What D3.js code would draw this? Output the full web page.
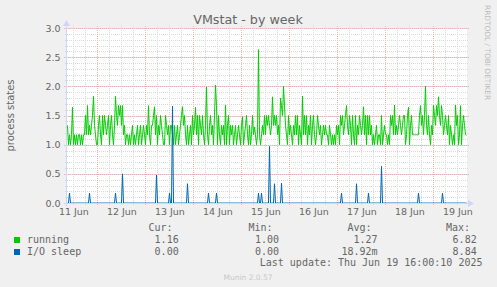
<!DOCTYPE html>
<html>
<head>
<meta charset="utf-8">
<script src="https://cdn.jsdelivr.net/npm/d3@7"></script>
<style>
  body { margin: 0; background: #F0F0F0; }
  svg { display: block; }
</style>
</head>
<body>
<div id="chart"></div>
<script>
// Series values, one value per 30 minute step
var running = [
  1.33,1.00,1.17,1.00,1.17,1.64,1.00,1.17,1.00,1.17,1.00,1.17,1.17,1.00,1.17,1.00,1.17,1.17,1.50,1.17,
  1.67,1.17,1.33,1.17,1.33,1.50,1.83,1.33,1.17,1.00,1.00,1.33,1.50,1.17,1.00,1.50,1.17,1.50,1.33,1.17,
  1.33,1.50,1.00,1.33,1.50,1.17,1.00,1.33,1.83,1.50,1.33,1.67,1.50,1.67,1.33,1.67,1.17,1.33,1.00,1.17,
  1.17,1.00,1.17,1.00,1.17,1.33,1.00,1.17,1.00,1.17,1.33,1.00,1.17,1.33,1.00,1.17,1.33,1.17,1.00,1.33,
  1.17,1.67,1.17,1.00,1.33,1.33,1.50,1.65,1.17,1.50,1.00,1.33,1.17,1.50,1.33,1.17,1.00,1.00,1.50,1.33,
  1.17,1.33,1.00,1.33,1.33,1.17,1.00,1.33,1.00,1.17,1.33,1.00,1.17,1.33,1.50,1.65,1.33,1.50,1.17,1.00,
  1.33,1.00,1.17,1.33,1.00,1.50,1.17,1.33,1.64,1.17,1.50,1.00,1.50,1.33,1.17,1.50,1.17,1.00,1.33,1.99,
  1.17,1.00,1.33,1.50,1.17,1.33,1.00,1.50,2.02,1.67,1.00,1.50,1.17,1.00,1.33,1.17,1.33,1.00,1.68,1.00,
  1.33,1.50,1.00,1.33,1.17,1.33,1.00,1.17,1.33,1.00,1.17,1.33,1.17,1.00,1.33,1.48,1.00,1.17,1.33,1.50,
  1.17,1.00,1.33,1.00,1.17,1.50,1.17,1.30,1.17,1.00,1.17,2.63,1.17,1.00,1.17,1.33,1.17,1.50,1.17,1.50,
  1.33,1.50,1.33,1.17,1.33,1.82,1.33,1.50,1.33,1.50,1.17,1.33,1.00,1.80,1.67,1.50,2.00,1.67,1.33,1.17,
  1.00,1.50,1.17,1.33,1.17,1.00,1.33,1.17,1.50,1.17,1.50,1.00,1.33,1.17,1.00,1.83,1.17,1.50,1.17,1.50,
  1.00,1.33,1.17,1.50,1.00,1.33,1.50,1.17,1.00,1.17,1.50,1.33,1.17,1.33,1.00,1.17,1.33,1.17,1.33,1.17,
  1.17,1.00,1.33,1.17,1.00,1.17,1.00,1.17,1.00,1.33,1.17,1.33,1.00,1.50,1.33,1.50,1.17,1.33,1.50,1.67,
  1.33,1.17,1.50,1.33,1.00,1.50,1.17,1.00,1.50,1.00,1.33,1.17,1.50,1.33,1.17,1.33,1.65,1.17,1.50,1.00,
  1.50,1.17,1.50,1.17,1.33,1.00,1.17,1.00,1.17,1.33,1.00,1.17,1.17,1.00,1.50,1.00,1.17,1.33,1.17,1.17,
  1.00,1.17,1.00,1.50,1.33,1.50,1.17,1.68,1.17,1.33,1.17,1.33,1.50,1.33,1.17,1.33,1.50,1.50,1.00,1.17,
  1.50,1.64,1.00,1.33,1.50,1.17,1.17,1.17,1.17,1.17,1.17,1.17,1.50,1.67,1.33,1.50,1.17,1.50,2.00,1.33,
  1.17,1.50,1.17,1.00,1.33,1.17,1.68,1.50,1.33,1.67,1.50,1.82,1.50,1.33,1.67,1.50,1.17,1.33,1.50,1.33,
  1.17,1.50,1.00,1.33,1.17,1.00,1.17,1.00,1.68,1.33,1.50,1.00,1.17,1.67,1.00,1.33,1.50,1.33,1.17,1.16
];

var ioSleep = [
  0,0,0.17,0,0,0,0,0,0,0,0,0,0,0,0,0,0,0,0,0,
  0,0,0.17,0,0,0,0,0,0,0,0,0,0,0,0,0,0,0,0,0,
  0,0,0,0,0,0,0,0,0.17,0,0,0,0,0,0,0.50,0,0,0,0,
  0,0,0,0,0,0,0,0,0,0,0,0,0,0,0,0,0,0,0,0,
  0,0,0,0,0,0,0,0,0,0.48,0,0,0,0,0,0,0,0,0,0,
  0,0,0.17,0,0,1.66,0,0,0,0,0,0,0,0,0,0,0,0,0,0,
  0.33,0,0,0,0,0,0,0,0,0,0,0,0,0,0,0,0,0,0,0,
  0,0.17,0,0,0,0,0,0,0,0.17,0,0,0,0,0,0,0,0,0,0,
  0,0,0,0,0,0,0,0,0,0,0,0,0,0,0,0,0,0,0,0,
  0,0,0,0,0,0,0,0,0,0,0,0.17,0,0,0.17,0,0,0,0,0,
  0,0,0.97,0,0,0,0,0.33,0,0,0,0,0,0,0.34,0,0,0,0,0,
  0,0,0,0,0,0,0,0,0,0,0,0,0,0,0,0,0,0,0,0,
  0,0,0,0,0,0,0,0,0,0,0,0,0,0,0,0,0,0,0,0,
  0,0,0,0,0,0,0,0,0,0,0,0,0,0,0.17,0,0,0,0,0,
  0,0,0,0,0,0,0,0,0,0.33,0,0,0,0,0,0,0,0,0,0,
  0,0.17,0,0,0,0,0,0,0,0,0,0,0,0,0.63,0,0,0,0,0,
  0,0,0,0,0,0,0,0,0,0,0,0,0,0,0,0,0,0,0,0,
  0,0,0,0,0,0,0,0,0,0,0,0.17,0,0,0,0,0,0,0,0,
  0,0,0,0,0,0,0,0,0,0,0,0,0,0,0,0.17,0,0,0,0,
  0,0,0,0,0,0,0,0,0,0,0,0,0,0,0,0,0,0,0,0
];

// Tick labels and legend text
var yTicks = [0, 0.5, 1.0, 1.5, 2.0, 2.5, 3.0];
var dayLabels = ["11 Jun", "12 Jun", "13 Jun", "14 Jun", "15 Jun", "16 Jun", "17 Jun", "18 Jun", "19 Jun"];
var seriesNames = ["running", "I/O sleep"];
var seriesColors = ["#00CC00", "#0066B3"];
var curValues = ["1.16", "0.00"];
var minValues = ["1.00", "0.00"];
var avgValues = ["1.27", "18.92m"];
var maxValues = ["6.82", "8.84"];

// Chart dimensions (rrdtool style canvas)
var width = 497;
var height = 287;
var marginLeft = 67;
var marginTop = 28;
var plotWidth = 400;
var plotHeight = 175;
var stepMs = 1800 * 1000;
var startTime = Date.UTC(2025, 5, 11, 8, 48);
var endTime = startTime + running.length * stepMs;

var fontSans = "'DejaVu Sans', sans-serif";
var fontMono = "'DejaVu Sans Mono', monospace";
var textColor = "#666666";
var axisColor = "#CFD6F8";
var minorGridColor = "#D9D9D9";
var majorGridColor = "#F3B0B0";

var svg = d3.select("#chart").append("svg")
  .attr("width", width)
  .attr("height", height);

svg.append("rect")
  .attr("width", width)
  .attr("height", height)
  .attr("fill", "#F0F0F0");

// Scales
var xScale = d3.scaleUtc()
  .domain([startTime, endTime])
  .range([marginLeft, marginLeft + plotWidth]);

var yScale = d3.scaleLinear()
  .domain([0, 3])
  .range([marginTop + plotHeight, marginTop]);

// White canvas
svg.append("rect")
  .attr("x", marginLeft)
  .attr("y", marginTop)
  .attr("width", plotWidth)
  .attr("height", plotHeight)
  .attr("fill", "#FFFFFF");

// Grid: minor lines first, then the red major lines
var grid = svg.append("g").attr("shape-rendering", "crispEdges");

var minorTimes = d3.utcHour.every(6).range(new Date(startTime), new Date(endTime));
var majorTimes = d3.utcDay.range(new Date(startTime), new Date(endTime));
var minorValues = d3.range(1, 31).map(function(d) { return d / 10; });

grid.selectAll(".vminor").data(minorTimes).enter().append("line")
  .attr("x1", function(d) { return Math.round(xScale(d)) + 0.5; })
  .attr("x2", function(d) { return Math.round(xScale(d)) + 0.5; })
  .attr("y1", marginTop - 2)
  .attr("y2", marginTop + plotHeight + 2)
  .attr("stroke", minorGridColor)
  .attr("stroke-dasharray", "1,1");

grid.selectAll(".hminor").data(minorValues).enter().append("line")
  .attr("x1", marginLeft - 2)
  .attr("x2", marginLeft + plotWidth + 2)
  .attr("y1", function(d) { return Math.round(yScale(d)) + 0.5; })
  .attr("y2", function(d) { return Math.round(yScale(d)) + 0.5; })
  .attr("stroke", minorGridColor)
  .attr("stroke-dasharray", "1,1");

grid.selectAll(".vmajor").data(majorTimes).enter().append("line")
  .attr("x1", function(d) { return Math.round(xScale(d)) + 0.5; })
  .attr("x2", function(d) { return Math.round(xScale(d)) + 0.5; })
  .attr("y1", marginTop - 2)
  .attr("y2", marginTop + plotHeight + 3)
  .attr("stroke", majorGridColor)
  .attr("stroke-dasharray", "1,1");

grid.selectAll(".hmajor").data(yTicks.slice(1)).enter().append("line")
  .attr("x1", marginLeft - 3)
  .attr("x2", marginLeft + plotWidth + 2)
  .attr("y1", function(d) { return Math.round(yScale(d)) + 0.5; })
  .attr("y2", function(d) { return Math.round(yScale(d)) + 0.5; })
  .attr("stroke", majorGridColor)
  .attr("stroke-dasharray", "1,1");

// Data lines
function timeAt(i) {
  return startTime + (i + 0.5) * stepMs;
}

var line = d3.line()
  .x(function(d, i) { return xScale(timeAt(i)); })
  .y(function(d) { return yScale(d); });

var seriesList = [running, ioSleep];
seriesList.forEach(function(values, k) {
  svg.append("path")
    .datum(values)
    .attr("d", line)
    .attr("fill", "none")
    .attr("stroke", seriesColors[k])
    .attr("stroke-width", 1);
});

// Axis lines with arrow heads
var axisY = marginTop + plotHeight + 0.5;
svg.append("line")
  .attr("x1", marginLeft - 3).attr("x2", marginLeft + plotWidth + 2)
  .attr("y1", axisY).attr("y2", axisY)
  .attr("stroke", axisColor);
svg.append("line")
  .attr("x1", marginLeft - 0.5).attr("x2", marginLeft - 0.5)
  .attr("y1", marginTop + plotHeight + 3).attr("y2", marginTop - 3)
  .attr("stroke", axisColor);
svg.append("path")
  .attr("d", "M" + (marginLeft + plotWidth + 1) + "," + (axisY - 3.5) +
             "L" + (marginLeft + plotWidth + 7) + "," + axisY +
             "L" + (marginLeft + plotWidth + 1) + "," + (axisY + 3.5) + "Z")
  .attr("fill", axisColor);
svg.append("path")
  .attr("d", "M" + (marginLeft - 4) + "," + (marginTop - 2) +
             "L" + (marginLeft - 0.5) + "," + (marginTop - 8) +
             "L" + (marginLeft + 3) + "," + (marginTop - 2) + "Z")
  .attr("fill", axisColor);

// Y axis tick labels
var yAxis = svg.append("g")
  .attr("transform", "translate(" + marginLeft + ",0)")
  .call(d3.axisLeft(yScale).tickValues(yTicks).tickFormat(d3.format(".1f")).tickSize(0).tickPadding(6.5));
yAxis.select(".domain").remove();
yAxis.selectAll("text")
  .attr("fill", textColor)
  .style("font-family", fontSans)
  .style("font-size", "9.5px");

// X axis day labels, centred at noon
var noonTimes = dayLabels.map(function(d, i) { return Date.UTC(2025, 5, 11 + i, 12); });
var xAxis = svg.append("g")
  .attr("transform", "translate(0," + (marginTop + plotHeight) + ")")
  .call(d3.axisBottom(xScale).tickValues(noonTimes)
    .tickFormat(function(d, i) { return dayLabels[i]; })
    .tickSize(0).tickPadding(5.5));
xAxis.select(".domain").remove();
xAxis.selectAll("text")
  .attr("fill", textColor)
  .style("font-family", fontSans)
  .style("font-size", "9.5px");

// Title
svg.append("text")
  .attr("x", 248)
  .attr("y", 24)
  .attr("text-anchor", "middle")
  .attr("fill", textColor)
  .style("font-family", fontSans)
  .style("font-size", "12.7px")
  .text("VMstat - by week");

// Vertical axis label
svg.append("text")
  .attr("transform", "translate(13.5," + (marginTop + plotHeight / 2) + ") rotate(-90)")
  .attr("text-anchor", "middle")
  .attr("fill", textColor)
  .style("font-family", fontSans)
  .style("font-size", "10px")
  .text("process states");

// Watermark on the right
svg.append("text")
  .attr("transform", "translate(484.5,5) rotate(90)")
  .attr("fill", "#BBBBBB")
  .style("font-family", fontSans)
  .style("font-size", "7.4px")
  .text("RRDTOOL / TOBI OETIKER");

// Legend
var legend = svg.append("g")
  .style("font-family", fontMono)
  .style("font-size", "10px")
  .attr("fill", textColor);

var headers = [["Cur:", 172.5], ["Min:", 272.5], ["Avg:", 371.5], ["Max:", 470]];
headers.forEach(function(h) {
  legend.append("text")
    .attr("x", h[1])
    .attr("y", 231)
    .attr("text-anchor", "end")
    .text(h[0]);
});

var columns = [[curValues, 178.7], [minValues, 279], [avgValues, 377.5], [maxValues, 476.7]];
seriesNames.forEach(function(name, k) {
  var rowY = 243 + k * 12;
  legend.append("rect")
    .attr("x", 14)
    .attr("y", rowY - 6)
    .attr("width", 6)
    .attr("height", 6)
    .attr("fill", seriesColors[k]);
  legend.append("text")
    .attr("x", 27)
    .attr("y", rowY)
    .text(name);
  columns.forEach(function(c) {
    legend.append("text")
      .attr("x", c[1])
      .attr("y", rowY)
      .attr("text-anchor", "end")
      .text(c[0][k]);
  });
});

legend.append("text")
  .attr("x", 482.5)
  .attr("y", 266)
  .attr("text-anchor", "end")
  .text("Last update: Thu Jun 19 16:00:10 2025");

// Footer
svg.append("text")
  .attr("x", 248)
  .attr("y", 280)
  .attr("text-anchor", "middle")
  .attr("fill", "#C8C8C8")
  .style("font-family", fontSans)
  .style("font-size", "7.5px")
  .text("Munin 2.0.57");
</script>
</body>
</html>
